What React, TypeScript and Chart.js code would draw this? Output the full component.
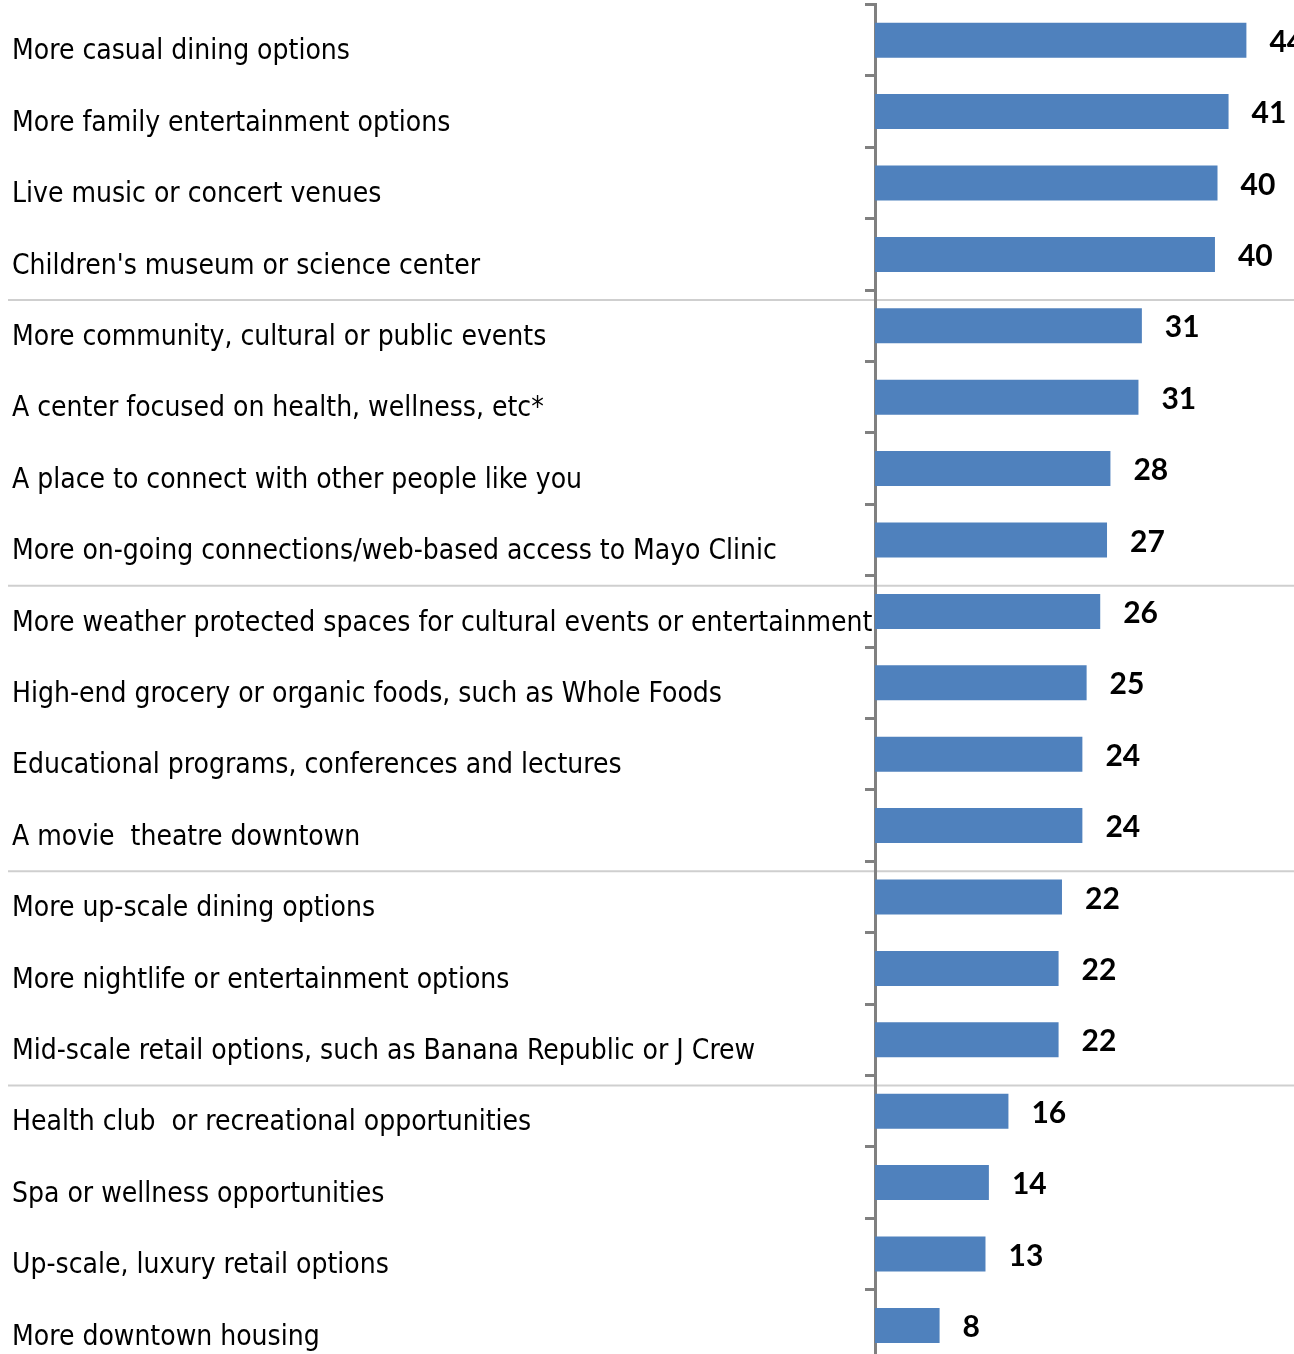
import React, { useEffect, useRef } from "react";
import { Chart, registerables } from "chart.js";

Chart.register(...registerables);

const categories: string[] = [
  "More casual dining options",
  "More family entertainment options",
  "Live music or concert venues",
  "Children's museum or science center",
  "More community, cultural or public events",
  "A center focused on health, wellness, etc*",
  "A place to connect with other people like you",
  "More on-going connections/web-based access to Mayo Clinic",
  "More weather protected spaces for cultural events or entertainment",
  "High-end grocery or organic foods, such as Whole Foods",
  "Educational programs, conferences and lectures",
  "A movie  theatre downtown",
  "More up-scale dining options",
  "More nightlife or entertainment options",
  "Mid-scale retail options, such as Banana Republic or J Crew",
  "Health club  or recreational opportunities",
  "Spa or wellness opportunities",
  "Up-scale, luxury retail options",
  "More downtown housing",
];

const values: number[] = [
  43.7, 41.6, 40.3, 40.0, 31.4, 31.0, 27.7, 27.3, 26.5, 24.9, 24.4, 24.4, 22.0,
  21.6, 21.6, 15.7, 13.4, 13.0, 7.6,
];

const valueLabels: string[] = [
  "44", "41", "40", "40", "31", "31", "28", "27", "26", "25", "24", "24", "22",
  "22", "22", "16", "14", "13", "8",
];

// index after which a group separator is drawn
const groupBreaks: number[] = [3, 7, 11, 14];

const LABEL_FONT = '"Liberation Sans Narrow", "Arial Narrow", "DejaVu Sans Condensed", sans-serif';
const VALUE_FONT = 'Lato, Carlito, Calibri, "Open Sans", sans-serif';

export default function App() {
  const canvasRef = useRef<HTMLCanvasElement | null>(null);

  useEffect(() => {
    document.documentElement.style.overflow = "hidden";
    document.body.style.margin = "0";
    document.body.style.overflow = "hidden";
    const canvas = canvasRef.current;
    if (!canvas) return;

    const separatorPlugin = {
      id: "separators",
      beforeDraw(chart: any) {
        const ctx = chart.ctx;
        const y = chart.scales.y;
        ctx.save();
        ctx.strokeStyle = "#cfcfcf";
        ctx.lineWidth = 2;
        groupBreaks.forEach((i) => {
          const py = (y.getPixelForValue(i) + y.getPixelForValue(i + 1)) / 2 + 10;
          ctx.beginPath();
          ctx.moveTo(8, py);
          ctx.lineTo(chart.width, py);
          ctx.stroke();
        });
        ctx.restore();
      },
    };

    const valueLabelPlugin = {
      id: "valueLabels",
      afterDatasetsDraw(chart: any) {
        const ctx = chart.ctx;
        const meta = chart.getDatasetMeta(0);
        ctx.save();
        ctx.font = `bold 30px ${VALUE_FONT}`;
        ctx.fillStyle = "#000000";
        ctx.textAlign = "left";
        ctx.textBaseline = "middle";
        meta.data.forEach((bar: any, i: number) => {
          ctx.fillText(valueLabels[i], bar.x + 23, bar.y + 2);
        });
        ctx.restore();
      },
    };

    const chart = new Chart(canvas, {
      type: "bar",
      data: {
        labels: categories,
        datasets: [
          {
            data: values,
            backgroundColor: "#4F81BD",
            borderWidth: 0,
            barPercentage: 0.49,
            categoryPercentage: 1.0,
          },
        ],
      },
      options: {
        indexAxis: "y",
        responsive: false,
        animation: false,
        devicePixelRatio: 1,
        layout: { padding: { left: 12, top: 4.5, right: 0, bottom: 4.9 } },
        plugins: {
          legend: { display: false },
          tooltip: { enabled: false },
          title: { display: false },
        },
        scales: {
          x: {
            display: false,
            min: 0,
            max: 49.3,
          },
          y: {
            position: "left",
            z: 1,
            grid: {
              drawOnChartArea: false,
              drawTicks: true,
              tickLength: 10,
              lineWidth: 3,
              color: "#808080",
              offset: true,
            },
            border: { display: true, color: "#808080", width: 3 },
            ticks: {
              crossAlign: "far",
              color: "#000000",
              padding: 0,
              labelOffset: 12,
              autoSkip: false,
              font: { family: LABEL_FONT, size: 28 },
            },
            afterFit(scale: any) {
              scale.width = 863;
              scale.paddingTop = 0;
              scale.paddingBottom = 0;
            },
          },
        },
      },
      plugins: [separatorPlugin, valueLabelPlugin],
    });

    return () => chart.destroy();
  }, []);

  return (
    <div style={{ width: 1294, height: 1366, overflow: "hidden" }}>
      <canvas ref={canvasRef} width={1294} height={1366} />
    </div>
  );
}
